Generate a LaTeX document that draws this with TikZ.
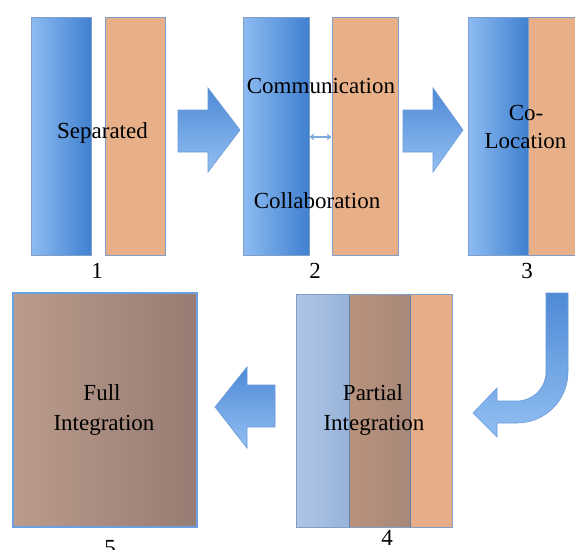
\documentclass[tikz,border=0pt]{standalone}
\usepackage{fontspec}
\setmainfont{Liberation Serif}
\usetikzlibrary{arrows.meta}
\definecolor{barL}{HTML}{8EBCF2}
\definecolor{barD}{HTML}{3F80D0}
\definecolor{orng}{HTML}{E8B089}
\definecolor{edgeC}{HTML}{7F9FC8}
\definecolor{arrT}{HTML}{4F8AD6}
\definecolor{arrB}{HTML}{92BFF2}
\definecolor{arrE}{HTML}{6A9AD8}
\definecolor{fullL}{HTML}{BA9C8C}
\definecolor{fullR}{HTML}{977C73}
\definecolor{fullE}{HTML}{6C9FE0}
\definecolor{lbL}{HTML}{AFC6E5}
\definecolor{lbR}{HTML}{97B3DB}
\definecolor{brL}{HTML}{B9927B}
\definecolor{brR}{HTML}{A7887A}
\definecolor{orng4}{HTML}{E5AE88}
\definecolor{smallA}{HTML}{7EA9DF}
\begin{document}
\begin{tikzpicture}[x=1pt,y=-1pt,
  bar/.style={rectangle, inner sep=0pt, draw=edgeC, line width=0.8pt},
  bluebar/.style={bar, left color=barL, right color=barD},
  orangebar/.style={bar, fill=orng},
  txt/.style={font=\fontsize{23}{27}\selectfont, anchor=base, inner sep=0pt, text=black},
  blockarrow/.style={draw=arrE, line width=0.6pt, top color=arrT, bottom color=arrB}
]
\useasboundingbox (0,0) rectangle (575,549);
\clip (0,0) rectangle (575,549);
\fill[white] (0,0) rectangle (575,549);

% panel 1
\node[bluebar, minimum width=60pt, minimum height=238pt] (b1a) at (61,136) {};
\node[orangebar, minimum width=60pt, minimum height=238pt] (b1b) at (135,136) {};
\node[txt] (t1) at (102.5,138) {Separated};
\node[txt] (n1) at (97,278) {1};

% arrow 1
\path[blockarrow] (178,110) -- (208,110) -- (208,88) -- (240,130) -- (208,172) -- (208,152) -- (178,152) -- cycle;

% panel 2
\node[bluebar, minimum width=66pt, minimum height=238pt] (b2a) at (276,136) {};
\node[orangebar, minimum width=66pt, minimum height=238pt] (b2b) at (365,136) {};
\draw[{Stealth[length=5pt,width=7pt]}-{Stealth[length=5pt,width=7pt]}, smallA, line width=2pt] (b2a.east |- 0,137) -- (b2b.west |- 0,137);
\node[txt] (t2a) at (321,93) {Communication};
\node[txt] (t2b) at (317,208) {Collaboration};
\node[txt] (n2) at (315,278) {2};

% arrow 2
\path[blockarrow] (403,110) -- (433,110) -- (433,88) -- (463,130) -- (433,172) -- (433,152) -- (403,152) -- cycle;

% panel 3
\node[orangebar, minimum width=54pt, minimum height=238pt] (b3b) at (555,136) {};
\node[bluebar, minimum width=60pt, minimum height=238pt] (b3a) at (498,136) {};
\node[txt] (t3a) at (526,120) {Co-};
\node[txt] (t3b) at (525.5,148) {Location};
\node[txt] (n3) at (527,278) {3};

% curved arrow 3 -> 4
\path[blockarrow] (546,293) -- (568,293) -- (568,372) arc (0:90:51) -- (497,423) -- (497,437) -- (473,413) -- (497,388) -- (497,401) -- (517,401) arc (90:0:29) -- cycle;

% panel 4
\node[bar, draw=none, left color=lbL, right color=lbR, minimum width=53pt, minimum height=232pt] (p4a) at (323.5,411) {};
\node[bar, draw=none, left color=brL, right color=brR, minimum width=60pt, minimum height=232pt] (p4b) at (380,411) {};
\node[bar, draw=none, fill=orng4, minimum width=42pt, minimum height=232pt] (p4c) at (431,411) {};
\draw[edgeC, line width=1pt] (p4a.north west) rectangle (p4c.south east);
\draw[edgeC!80!black, line width=0.6pt] (p4b.north west) -- (p4b.south west) (p4b.north east) -- (p4b.south east);
\node[txt] (t4a) at (373,400) {Partial};
\node[txt] (t4b) at (374,430) {Integration};
\node[txt] (n4) at (387,545) {4};

% arrow 4 -> 5
\path[blockarrow] (275,385) -- (247,385) -- (247,367) -- (215,407) -- (247,448) -- (247,427) -- (275,427) -- cycle;

% panel 5
\node[bar, draw=fullE, line width=2pt, left color=fullL, right color=fullR, minimum width=184pt, minimum height=234pt] (p5) at (105,410) {};
\node[txt] (t5a) at (102,400) {Full};
\node[txt] (t5b) at (104,430) {Integration};
\node[txt] (n5) at (110,555) {5};
\end{tikzpicture}
\end{document}
